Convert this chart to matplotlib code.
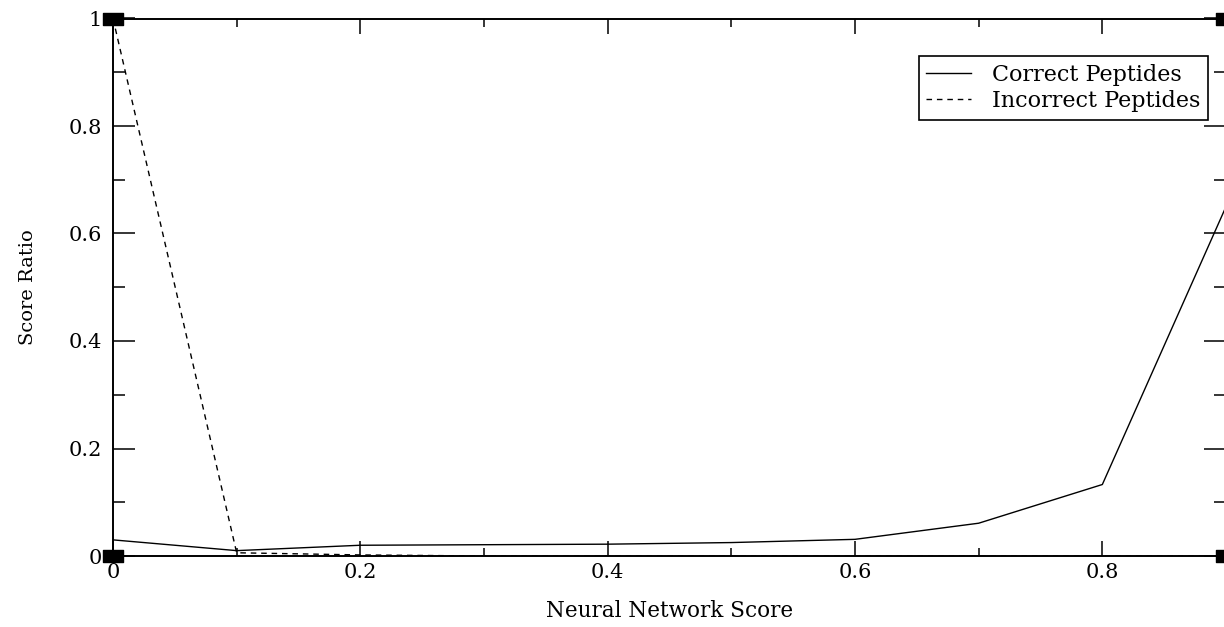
import matplotlib
matplotlib.use("Agg")
import matplotlib.pyplot as plt
from matplotlib.path import Path
from matplotlib.ticker import MultipleLocator, FormatStrFormatter

# values
nn_score = [0.0, 0.1, 0.2, 0.3, 0.4, 0.5, 0.6, 0.7, 0.8, 0.9]
correct_ratio = [0.030, 0.010, 0.020, 0.021, 0.022, 0.025, 0.031, 0.061, 0.133, 0.650]
incorrect_ratio = [1.000, 0.006, 0.002, 0.000, 0.000, 0.000, 0.000, 0.000, 0.000, 0.000]

x_range = (0.0, 0.9)
y_range = (0.0, 1.0)

plt.rcParams['font.family'] = ['DejaVu Serif']

fig = plt.figure(figsize=(12.24, 6.27), dpi=100)
ax = fig.add_axes([113 / 1224, 1 - 556 / 627, 1113 / 1224, 537.5 / 627])

ax.plot(nn_score, correct_ratio, color='black', linewidth=1.0, label='Correct Peptides')
ax.plot(nn_score, incorrect_ratio, color='black', linewidth=1.0, linestyle=(0, (4, 3.5)),
        label='Incorrect Peptides')

ax.set_xlim(*x_range)
ax.set_ylim(*y_range)

ax.xaxis.set_major_locator(MultipleLocator(0.2))
ax.xaxis.set_minor_locator(MultipleLocator(0.1))
ax.yaxis.set_major_locator(MultipleLocator(0.2))
ax.yaxis.set_minor_locator(MultipleLocator(0.1))
ax.xaxis.set_major_formatter(FormatStrFormatter('%g'))
ax.yaxis.set_major_formatter(FormatStrFormatter('%g'))

ax.tick_params(which='both', direction='in', top=True, right=True, width=1.1, labelsize=15)
ax.tick_params(axis='x', which='major', length=10.8, pad=5)
ax.tick_params(axis='x', which='minor', length=5.8)
ax.tick_params(axis='y', which='major', length=15.8, pad=8)
ax.tick_params(axis='y', which='minor', length=8.6)

for sp in ax.spines.values():
    sp.set_linewidth(1.4)

ax.set_xlabel('Neural Network Score', fontsize=15.5)
ax.xaxis.set_label_coords(0.5, -0.082)
ax.set_ylabel('Score Ratio', fontsize=14)
ax.yaxis.set_label_coords(-0.068, 0.5)

# black corner squares (grace style)
rect = Path([(-1.5, -1), (1.5, -1), (1.5, 1), (-1.5, 1), (-1.5, -1)],
            [Path.MOVETO, Path.LINETO, Path.LINETO, Path.LINETO, Path.CLOSEPOLY])
corner_x = [x_range[0], x_range[0], x_range[1], x_range[1]]
corner_y = [y_range[0], y_range[1], y_range[0], y_range[1]]
ax.plot(corner_x, corner_y, linestyle='none', marker=rect, markersize=13.7,
        color='black', clip_on=False, zorder=5)

leg = ax.legend(loc='upper right', bbox_to_anchor=(1208 / 1224, 1 - 56 / 627),
                bbox_transform=fig.transFigure, borderaxespad=0, fontsize=16,
                frameon=True, fancybox=False, shadow=False, handlelength=2.0,
                handletextpad=0.95, labelspacing=0.2, borderpad=0.35)
leg.get_frame().set_edgecolor('black')
leg.get_frame().set_linewidth(1.2)
leg.get_frame().set_alpha(1.0)

fig.savefig('out.png', dpi=100, facecolor='white')
